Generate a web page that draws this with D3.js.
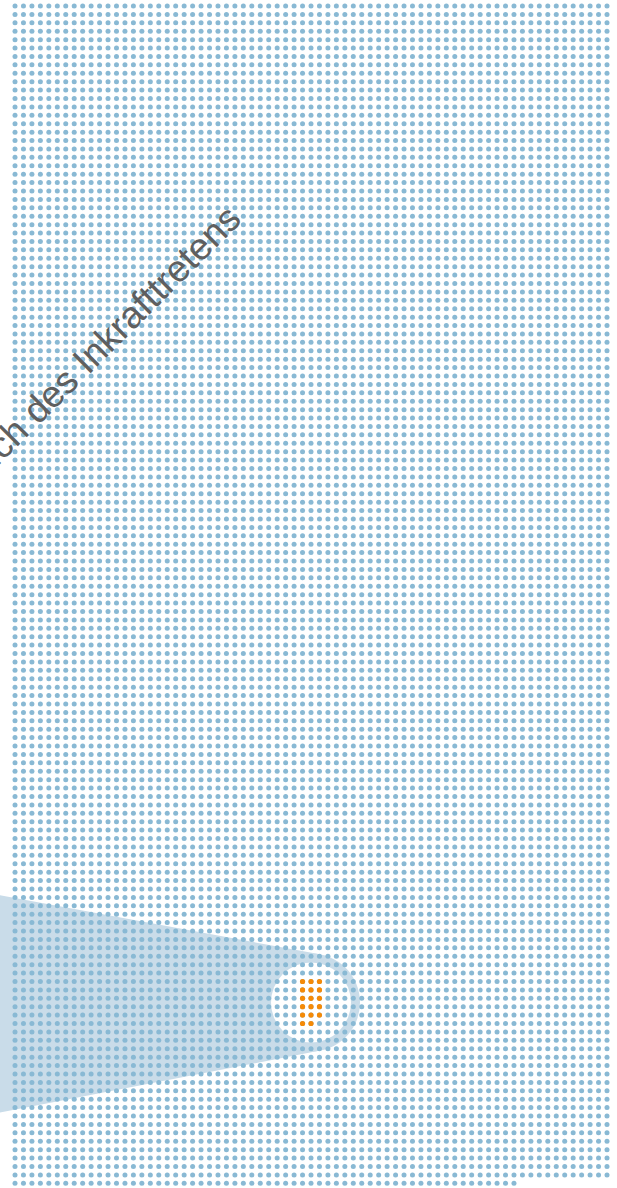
<!DOCTYPE html>
<html>
<head>
<meta charset="utf-8">
<script src="https://cdn.jsdelivr.net/npm/d3@7"></script>
<style>
  html, body { margin: 0; padding: 0; background: #fff; }
  svg { display: block; }
</style>
</head>
<body>
<div id="chart"></div>
<script>
// ---- data ----
const totalCount = 10000;          // all dots
const dotsPerRow = 71;             // columns in the grid
const highlightCount = 17;         // orange dots
const highlightBlockWidth = 3;     // orange block columns
const highlightStartCol = 34;
const highlightStartRow = 116;
const labelText = ["Zeitraum nach Anbruch des Inkrafttretens"];

// ---- layout ----
const W = 617, H = 1188;
const rows = Math.ceil(totalCount / dotsPerRow);
const x = d3.scaleLinear().domain([0, dotsPerRow - 1]).range([15, 607]);
const y = d3.scaleLinear().domain([0, rows - 1]).range([6, 1183.3]);

const svg = d3.select("#chart").append("svg")
  .attr("width", W).attr("height", H);

const dots = d3.range(totalCount).map(i => ({ col: i % dotsPerRow, row: Math.floor(i / dotsPerRow) }));
const hl = d3.range(highlightCount).map(i => ({
  col: highlightStartCol + (i % highlightBlockWidth),
  row: highlightStartRow + Math.floor(i / highlightBlockWidth)
}));

// callout beam + ring
const hlRows = Math.ceil(highlightCount / highlightBlockWidth);
const cx = x(highlightStartCol + (highlightBlockWidth - 1) / 2);
const cy = y(highlightStartRow + (hlRows - 1) / 2);
const rOuter = 49, rInner = 40;
const pTop = [-2, 895], pBot = [-2, 1113];
function tangent(p, upper) {
  const dx = p[0] - cx, dy = p[1] - cy;
  const d = Math.hypot(dx, dy);
  const a = Math.atan2(dy, dx);
  const b = Math.acos(rOuter / d);
  const t1 = [cx + rOuter * Math.cos(a + b), cy + rOuter * Math.sin(a + b)];
  const t2 = [cx + rOuter * Math.cos(a - b), cy + rOuter * Math.sin(a - b)];
  return upper ? (t1[1] < t2[1] ? t1 : t2) : (t1[1] > t2[1] ? t1 : t2);
}
const tTop = tangent(pTop, true), tBot = tangent(pBot, false);
const beamFill = "#c9dce9";
svg.append("path")
  .attr("d", d3.line()([pTop, tTop, [cx, cy], tBot, pBot]) + "Z")
  .attr("fill", beamFill);
svg.append("circle").attr("cx", cx).attr("cy", cy).attr("r", rOuter).attr("fill", beamFill);
svg.append("circle").attr("cx", cx).attr("cy", cy).attr("r", rInner).attr("fill", "#fff");

// dots
svg.append("g").selectAll("circle").data(dots).join("circle")
  .attr("cx", d => x(d.col)).attr("cy", d => y(d.row))
  .attr("r", 2.5).attr("fill", "#89b9d4");

svg.append("g").selectAll("circle").data(hl).join("circle")
  .attr("cx", d => x(d.col)).attr("cy", d => y(d.row))
  .attr("r", 2.6).attr("fill", "#f58a07");

// rotated label
svg.append("text")
  .attr("transform", "translate(243,221) rotate(-45)")
  .attr("text-anchor", "end")
  .attr("font-family", "'Liberation Sans', Arial, sans-serif")
  .attr("font-size", 37.5)
  .attr("fill", "#5f5f5f")
  .text(labelText[0]);
</script>
</body>
</html>
